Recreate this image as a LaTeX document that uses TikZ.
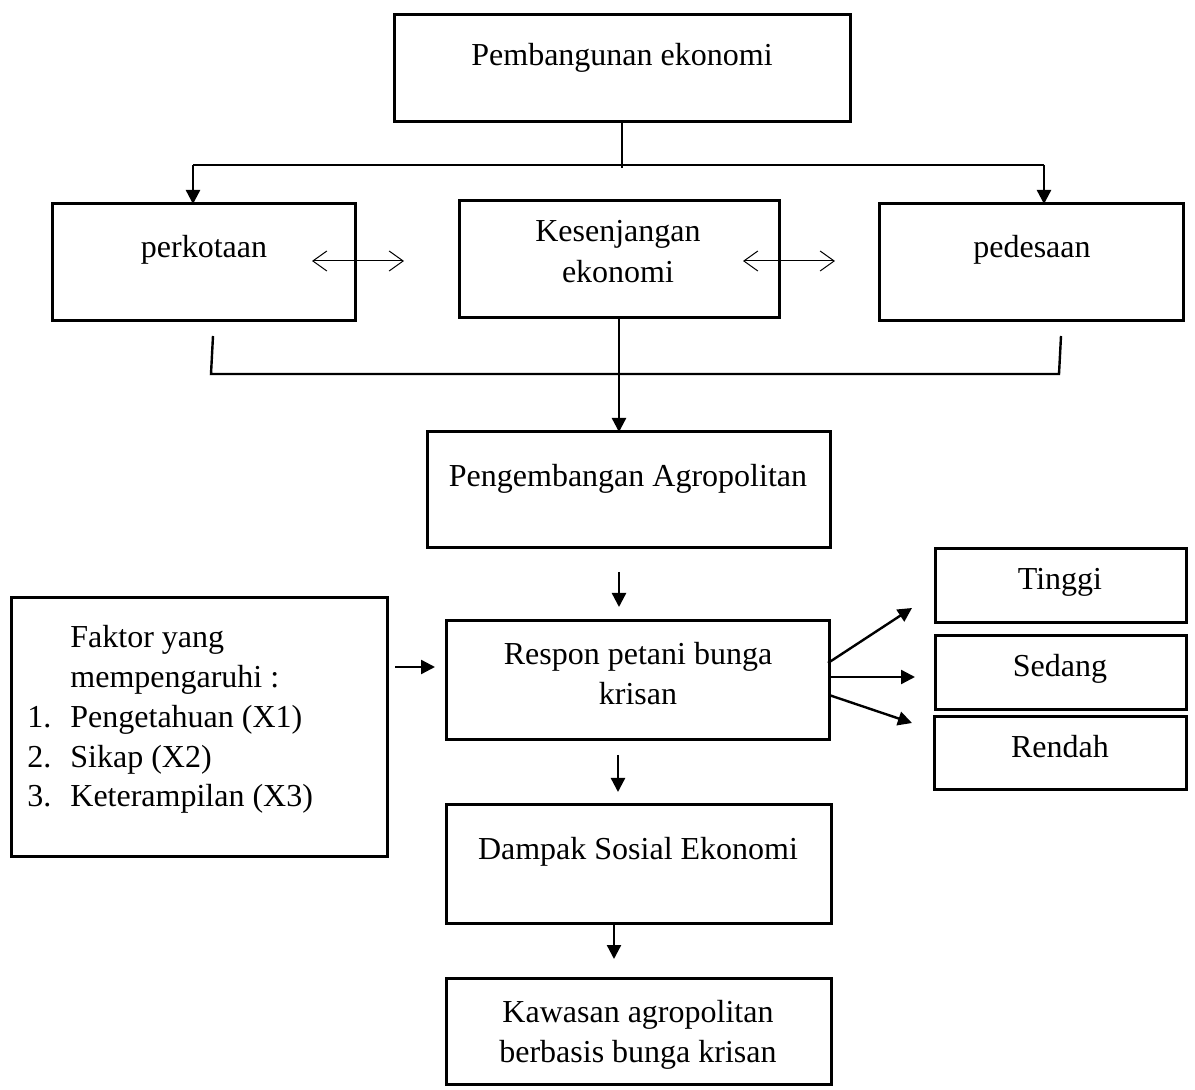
\documentclass[tikz,border=0pt]{standalone}
\usepackage{fontspec}
\setmainfont{Liberation Serif}
\usetikzlibrary{arrows.meta}
\begin{document}
\begin{tikzpicture}[x=0.5pt,y=-0.5pt,
  box/.style={draw,line width=1.5pt,rectangle,inner sep=0pt,outer sep=0pt},
  txt/.style={anchor=base,inner sep=0pt,font=\fontsize{16}{20}\selectfont},
  conn/.style={line width=1.2pt},
  arr/.style={line width=1.2pt,-{Triangle[length=7pt,width=7pt]}},
  darr/.style={line width=0.5pt,{Straight Barb[length=7pt,width=10pt]}-{Straight Barb[length=7pt,width=10pt]}}]
\useasboundingbox (0,0) rectangle (1195,1090);
% boxes
\node[box,minimum width=228pt,minimum height=53.5pt] (top) at (622,68.5) {};
\node[box,minimum width=151.5pt,minimum height=58.5pt] (kota) at (203.5,262.5) {};
\node[box,minimum width=160pt,minimum height=58.5pt] (senjang) at (619,259.5) {};
\node[box,minimum width=152pt,minimum height=58.5pt] (desa) at (1031,262.5) {};
\node[box,minimum width=201.5pt,minimum height=58pt] (agro) at (628.5,490) {};
\node[box,minimum width=191.5pt,minimum height=59.5pt] (respon) at (637.5,680.5) {};
\node[box,minimum width=188pt,minimum height=129.5pt] (faktor) at (199,727.5) {};
\node[box,minimum width=125.5pt,minimum height=37pt] (tinggi) at (1060.5,586) {};
\node[box,minimum width=125.5pt,minimum height=37pt] (sedang) at (1060.5,673) {};
\node[box,minimum width=126pt,minimum height=36.5pt] (rendah) at (1060,753.5) {};
\node[box,minimum width=192.5pt,minimum height=59pt] (dampak) at (638.5,864) {};
\node[box,minimum width=192.5pt,minimum height=53pt] (kawasan) at (638.5,1031) {};
% texts
\node[txt] (t1) at (622,66) {Pembangunan ekonomi};
\node[txt] (t2) at (204,258) {perkotaan};
\node[txt] (t3a) at (618,242) {Kesenjangan};
\node[txt] (t3b) at (618,283) {ekonomi};
\node[txt] (t4) at (1032,258) {pedesaan};
\node[txt] (t5) at (628,487) {Pengembangan Agropolitan};
\node[txt] (t6a) at (638,665) {Respon petani bunga};
\node[txt] (t6b) at (638,705) {krisan};
\node[txt] (t7) at (1060,590) {Tinggi};
\node[txt] (t8) at (1060,677) {Sedang};
\node[txt] (t9) at (1060,758) {Rendah};
\node[txt] (t10) at (638,860) {Dampak Sosial Ekonomi};
\node[txt] (t11a) at (638,1022) {Kawasan agropolitan};
\node[txt] (t11b) at (638,1062) {berbasis bunga krisan};
\node[txt,anchor=base west] (f1) at (70,648) {Faktor yang};
\node[txt,anchor=base west] (f2) at (70,688) {mempengaruhi :};
\node[txt,anchor=base west] (n1) at (27,728) {1.};
\node[txt,anchor=base west] (f3) at (70,728) {Pengetahuan (X1)};
\node[txt,anchor=base west] (n2) at (27,768) {2.};
\node[txt,anchor=base west] (f4) at (70,768) {Sikap (X2)};
\node[txt,anchor=base west] (n3) at (27,807) {3.};
\node[txt,anchor=base west] (f5) at (70,807) {Keterampilan (X3)};
% coordinates
\coordinate (hm) at (622,168);
\coordinate (hl) at (193,165);
\coordinate (hr) at (1044,165);
\coordinate (da1) at (312,261);
\coordinate (da2) at (404,261);
\coordinate (db1) at (743,261);
\coordinate (db2) at (835,261);
\coordinate (k1) at (213,336);
\coordinate (k2) at (211,374);
\coordinate (k3) at (1061,336);
\coordinate (k4) at (1059,374);
\coordinate (a1) at (619,572);
\coordinate (a2) at (619,607);
\coordinate (b1) at (395,667);
\coordinate (b2) at (435,667);
\coordinate (r1) at (828,663);
\coordinate (r1e) at (912,608);
\coordinate (r2) at (829,677);
\coordinate (r2e) at (915,677);
\coordinate (r3) at (829,695);
\coordinate (r3e) at (912,723);
\coordinate (c1) at (618,755);
\coordinate (c2) at (618,792);
\coordinate (d1) at (614,923);
\coordinate (d2) at (614,959);
% connectors
\draw[conn] (top.south) -- (hm);
\draw[conn] (hl) -- (hr);
\draw[arr] (hl) -- (hl |- kota.north);
\draw[arr] (hr) -- (hr |- desa.north);
\draw[darr] (da1) -- (da2);
\draw[darr] (db1) -- (db2);
\draw[conn] (k1) -- (k2) -- (k4) -- (k3);
\draw[arr] (senjang.south) -- (senjang.south |- agro.north);
\draw[arr] (a1) -- (a2);
\draw[arr] (b1) -- (b2);
\draw[arr] (r1) -- (r1e);
\draw[arr] (r2) -- (r2e);
\draw[arr] (r3) -- (r3e);
\draw[arr] (c1) -- (c2);
\draw[arr] (d1) -- (d2);
\end{tikzpicture}
\end{document}
